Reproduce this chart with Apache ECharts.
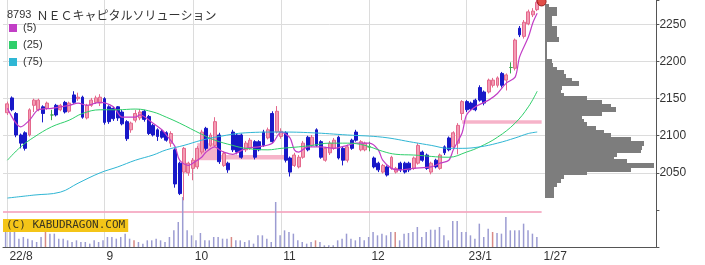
<!DOCTYPE html>
<html><head><meta charset="utf-8">
<script src="https://cdn.jsdelivr.net/npm/echarts@6/dist/echarts.min.js"></script>
<style>html,body{margin:0;padding:0;background:#fff}#c{width:705px;height:265px}</style>
</head><body><div id="c"></div>
<script>
// ---- trading days (categories) ----
const tradingMonths = [
  ['2022/8', [1,2,3,4,5,8,9,10,12,15,16,17,18,19,22,23,24,25,26,29,30,31]],
  ['2022/9', [1,2,5,6,7,8,9,12,13,14,15,16,20,21,22,26,27,28,29,30]],
  ['2022/10',[3,4,5,6,7,11,12,13,14,17,18,19,20,21,24,25,26,27,28,31]],
  ['2022/11',[1,2,4,7,8,9,10,11,14,15,16,17,18,21,22,24,25,28,29,30]],
  ['2022/12',[1,2,5,6,7,8,9,12,13,14,15,16,19,20,21,22,23,26,27,28,29,30]],
  ['2023/1', [4,5,6,10,11,12,13,16,17,18,19,20,23,24,25,26,27]]
];
const tickLabels = [['2022/8/1','22/8'],['2022/9/1','9'],['2022/10/3','10'],['2022/11/1','11'],['2022/12/1','12'],['2023/1/4','23/1']];
const endLabel = '1/27';

// ---- daily candles [open, close, low, high] ----
const candles = [
[2131,2143,2128,2146],[2151,2135,2133,2153],[2130,2101,2098,2132],[2101,2090,2083,2103],[2104,2083,2080,2106],
[2101,2135,2099,2137],[2141,2148,2132,2150],[2135,2148,2133,2150],[2139,2130,2118,2141],[2137,2144,2135,2146],
[2128,2128,2121,2135],[2141,2128,2126,2143],[2135,2141,2133,2143],[2145,2132,2130,2147],[2133,2144,2131,2146],
[2155,2145,2143,2160],[2150,2152,2147,2158],[2152,2125,2123,2154],[2124,2141,2122,2143],[2141,2148,2139,2151],
[2145,2151,2143,2154],[2144,2152,2140,2156],[2150,2118,2115,2152],[2139,2119,2116,2141],[2137,2123,2120,2139],
[2139,2124,2120,2140],[2132,2116,2114,2135],[2119,2096,2093,2121],[2108,2117,2104,2119],[2121,2130,2118,2135],
[2124,2132,2121,2136],[2133,2122,2119,2135],[2126,2103,2101,2128],[2114,2101,2099,2116],[2108,2099,2093,2110],
[2106,2098,2096,2108],[2104,2094,2092,2106],[2090,2103,2085,2106],[2081,2035,2030,2083],[2063,2022,2020,2065],
[2051,2083,2013,2085],[2050,2063,2046,2065],[2056,2067,2040,2070],[2058,2083,2055,2086],[2078,2105,2075,2108],
[2110,2083,2080,2112],[2087,2101,2085,2104],[2087,2119,2085,2125],[2101,2065,2062,2104],[2060,2076,2058,2079],
[2063,2054,2050,2065],[2105,2081,2078,2108],[2101,2078,2075,2103],[2101,2071,2069,2103],[2081,2090,2078,2093],
[2083,2094,2081,2097],[2092,2071,2068,2094],[2092,2081,2079,2094],[2105,2087,2085,2108],[2097,2108,2095,2111],
[2130,2092,2090,2133],[2105,2133,2103,2140],[2099,2106,2096,2110],[2104,2067,2064,2106],[2070,2051,2045,2072],
[2060,2074,2058,2077],[2058,2071,2056,2074],[2071,2090,2069,2093],[2098,2081,2079,2100],[2087,2098,2085,2101],
[2108,2087,2085,2110],[2092,2071,2069,2094],[2067,2083,2065,2085],[2077,2090,2074,2093],[2083,2094,2081,2097],
[2098,2070,2068,2100],[2083,2067,2060,2085],[2067,2085,2064,2088],[2094,2083,2081,2096],[2105,2094,2092,2108],
[2081,2092,2079,2094],[2081,2090,2079,2092],[2085,2085,2079,2092],[2070,2058,2056,2072],[2063,2054,2051,2065],
[2051,2060,2049,2062],[2058,2047,2045,2060],[2056,2071,2054,2073],[2051,2056,2049,2058],[2063,2054,2051,2065],
[2063,2051,2049,2065],[2063,2054,2051,2065],[2056,2070,2054,2072],[2063,2087,2061,2090],[2078,2067,2065,2080],
[2074,2056,2054,2076],[2051,2063,2048,2065],[2067,2058,2056,2069],[2056,2074,2054,2076],[2085,2077,2074,2087],
[2097,2081,2079,2099],[2085,2104,2083,2106],[2090,2114,2075,2117],[2130,2146,2121,2148],[2146,2135,2132,2148],
[2144,2136,2134,2146],[2148,2135,2133,2150],[2165,2148,2146,2168],[2159,2144,2141,2161],[2159,2175,2157,2177],
[2168,2175,2165,2178],[2168,2178,2165,2180],[2184,2168,2165,2186],[2175,2182,2161,2184],[2192,2192,2184,2199],
[2191,2229,2188,2231],[2245,2236,2233,2248],[2234,2253,2231,2256],[2251,2267,2249,2270],[2263,2268,2260,2272],
[2270,2280,2268,2283]
];

// ---- daily volume (relative units) ----
const volume = [45,45,45,25,30,25,20,15,30,45, 40,40,25,25,20,15,20,15,15,10,
  20,15,20,30,30,25,30,40,25,20, 15,10,20,20,25,20,15,30,50,75,
  150,50,35,20,42,20,20,30,30,25, 25,30,20,20,15,20,10,35,35,25,
  15,135,35,50,45,40,20,15,10,15, 20,15,5,5,5,20,25,40,25,20,
  30,20,30,45,35,40,35,45,45,20, 40,42,45,60,30,45,52,52,60,35,
  20,78,78,45,45,35,25,70,30,55, 45,42,40,90,50,50,50,70,50,40, 30];
const volumeRedDays = [9,29,51,70,88,110];

// ---- moving averages [dayIndex, price] ----
const ma5 = [[0,2137],[3,2112],[5,2121],[7,2135],[10,2137],[14,2141],[16,2144],[18,2141],[20,2144],[21,2145],[24,2139],[26,2125],[29,2125],[30,2128],[33,2117],[35,2108],[36,2101],[38,2085],[39,2067],[41,2060],[42,2063],[44,2071],[45,2078],[47,2085],[48,2081],[49,2078],[51,2075],[54,2083],[57,2085],[60,2090],[62,2105],[64,2097],[65,2081],[66,2078],[68,2085],[71,2085],[74,2083],[77,2087],[79,2090],[82,2090],[84,2081],[85,2067],[87,2056],[89,2054],[92,2056],[96,2058],[98,2063],[100,2067],[101,2081],[103,2104],[104,2128],[106,2139],[109,2148],[111,2157],[113,2171],[115,2179],[116,2206],[118,2233],[119,2252],[120,2265]];
const ma25 = [[0,2067],[3,2085],[6,2098],[10,2112],[14,2121],[17,2130],[21,2135],[25,2135],[29,2136],[33,2132],[36,2125],[39,2117],[44,2102],[47,2094],[51,2087],[54,2083],[59,2081],[62,2083],[66,2085],[69,2087],[73,2090],[77,2090],[81,2087],[85,2079],[88,2075],[92,2074],[100,2071],[104,2078],[107,2085],[111,2098],[115,2117],[118,2139],[120,2160]];
const ma75 = [[0,2016],[6,2020],[12,2024],[16,2036],[21,2050],[25,2058],[29,2067],[33,2074],[36,2081],[40,2087],[44,2094],[48,2099],[54,2104],[62,2105],[69,2104],[77,2101],[85,2098],[92,2091],[96,2087],[100,2083],[103,2083],[107,2085],[111,2090],[115,2097],[118,2103],[120,2105]];

// ---- price-by-volume profile ----
const profileLevels = [2020,2025,2030,2035,2040,2045,2050,2055,2060,2065,2070,2075,2080,2085,2090,2095,2100,2105,2110,2115,2120,2125,2130,2135,2140,2145,2150,2155,2160,2165,2170,2175,2180,2185,2190,2195,2200,2205,2210,2215,2220,2225,2230,2235,2240,2245,2250,2255,2260,2265,2270,2275];
const profileVolume = [9,9,9,12,16,19,42,86,109,82,69,72,96,97,99,86,66,59,51,42,39,37,57,71,66,57,42,19,16,17,34,27,21,19,12,8,7,2,2,2,2,2,14,12,12,12,7,7,7,12,12,4];

// ---- gaps / marker lines ----
const gapBands = [ // [fromDay, toDay, lowPrice, highPrice]
  [43,48,2067,2090],[48,63,2068,2074],[103,121,2116,2121],[-1,121,1996,1998.5]
];
const lastMarker = [121, 2281];

// ---------- build ----------
const dates = [];
tradingMonths.forEach(([m, days]) => days.forEach(d => dates.push(m + '/' + d)));
const PAD_END = 27;
const cats = [''].concat(dates, Array.from({length: PAD_END}, (_, k) => 'pad' + k));
const cat = i => i + 1;
const labelMap = {};
tickLabels.forEach(([d, t]) => { labelMap[cat(dates.indexOf(d))] = t; });
const lineCats = Object.keys(labelMap).map(Number);
labelMap[cat(dates.length)] = endLabel;

const upColor = '#f39bb4', upBorder = '#e4688c', downColor = '#1818c8', dojiColor = '#3aa84a';
const candleData = ['-'].concat(candles.map(c => {
  if (c[0] === c[1]) return {value: c, itemStyle: {color: dojiColor, borderColor: dojiColor, color0: dojiColor, borderColor0: dojiColor}};
  return c;
}));
const volData = ['-'].concat(volume.map((v, i) => volumeRedDays.includes(i) ? {value: v, itemStyle: {color: '#d88a86'}} : v));
const toCat = arr => arr.map(([i, v]) => [cat(i), v]);

const FONT = 'Liberation Sans, Arial, sans-serif';
const gridL = 1.2, gridR = 48.6;

const chart = echarts.init(document.getElementById('c'), null, {renderer: 'canvas'});
chart.setOption({
  animation: false,
  backgroundColor: '#ffffff',
  title: {
    text: '{a|8793} {b|ＮＥＣキャピタルソリューション}',
    left: 2, top: 1,
    textStyle: {fontWeight: 'normal', rich: {
      a: {fontSize: 11, fontFamily: FONT, color: '#333', fontWeight: 'normal'},
      b: {fontSize: 12, fontFamily: 'Noto Sans CJK JP', color: '#333', fontWeight: 'normal'}
    }}
  },
  legend: {
    data: ['(5)', '(25)', '(75)'], orient: 'vertical', left: 4, top: 17,
    itemWidth: 8, itemHeight: 8, itemGap: 5, icon: 'rect', selectedMode: false,
    textStyle: {fontSize: 11, lineHeight: 12, color: '#333', fontFamily: FONT, padding: [0, 0, 0, 1]}
  },
  graphic: [{
    type: 'text', left: 3, top: 219, z: 10,
    style: {text: '(C) KABUDRAGON.COM', font: '11px "DejaVu Sans Mono"', fill: '#3a3520',
      backgroundColor: '#f4c518', padding: [1, 3, 1, 3]}
  }],
  grid: [
    {left: gridL, right: gridR, top: 0, bottom: 18},
    {left: gridL, right: gridR, top: 197, bottom: 18},
    {left: 545, right: gridR, top: 0, bottom: 18}
  ],
  xAxis: [
    {type: 'category', data: cats, gridIndex: 0, boundaryGap: false,
      axisLine: {show: true, lineStyle: {color: '#555', width: 1}}, axisTick: {show: false},
      axisLabel: {show: true, interval: 0, align: 'left', margin: 4, fontSize: 12, color: '#333', fontFamily: FONT,
        padding: [0, 0, 0, 2],
        formatter: (v, idx) => labelMap[idx] || ''},
      splitLine: {show: true, interval: (idx) => lineCats.includes(idx), lineStyle: {color: '#dcdcdc', width: 1}}},
    {type: 'category', data: cats, gridIndex: 1, boundaryGap: false,
      axisLine: {show: false}, axisTick: {show: false}, axisLabel: {show: false}, splitLine: {show: false}},
    {type: 'value', gridIndex: 2, min: 0, max: 111.4, show: false}
  ],
  yAxis: [
    {type: 'value', gridIndex: 0, position: 'right', min: 1950, max: 2283, interval: 50,
      axisLine: {show: true, lineStyle: {color: '#555', width: 1}},
      axisTick: {show: true, length: 3, lineStyle: {color: '#555'}},
      axisLabel: {fontSize: 12, color: '#333', fontFamily: FONT, margin: 3,
        formatter: v => (v >= 2050 && v <= 2250) ? String(v) : ''},
      splitLine: {show: true, lineStyle: {color: ['rgba(0,0,0,0)', 'rgba(0,0,0,0)', '#dcdcdc', '#dcdcdc', '#dcdcdc', '#dcdcdc', '#dcdcdc'], width: 1}}},
    {type: 'value', gridIndex: 1, min: 0, max: 150, show: false},
    {type: 'value', gridIndex: 2, min: 1950, max: 2283, show: false}
  ],
  series: [
    {name: 'vol', type: 'bar', xAxisIndex: 1, yAxisIndex: 1, data: volData, barWidth: 1.5,
      itemStyle: {color: '#9c9cd2'}, silent: true, z: 1},
    {name: 'price', type: 'candlestick', xAxisIndex: 0, yAxisIndex: 0, data: candleData, barWidth: 3.4,
      itemStyle: {color: upColor, borderColor: upBorder, color0: downColor, borderColor0: downColor, borderWidth: 1},
      markArea: {silent: true, itemStyle: {color: '#f5a6c0', opacity: 0.85},
        data: gapBands.map(([a, b, lo, hi]) => [{xAxis: cat(a), yAxis: hi}, {xAxis: cat(b), yAxis: lo}])},
      z: 3},
    {name: '(5)', type: 'line', data: toCat(ma5), smooth: 0.3, showSymbol: false, color: '#c23ec6',
      lineStyle: {width: 1.2}, z: 4},
    {name: '(25)', type: 'line', data: toCat(ma25), smooth: 0.4, showSymbol: false, color: '#2fcf6b',
      lineStyle: {width: 1}, z: 4},
    {name: '(75)', type: 'line', data: toCat(ma75), smooth: 0.4, showSymbol: false, color: '#2fb6d4',
      lineStyle: {width: 1}, z: 4},
    {name: 'last', type: 'scatter', data: [[cat(lastMarker[0]), lastMarker[1]]], symbolSize: 9,
      itemStyle: {color: '#d8221a', borderColor: '#8a1010', borderWidth: 1}, z: 6},
    {name: 'profile', type: 'custom', xAxisIndex: 2, yAxisIndex: 2,
      data: profileLevels.map((p, k) => [p, profileVolume[k]]),
      encode: {x: 1, y: 0},
      renderItem: (params, api) => {
        const p = api.value(0), w = api.value(1);
        const a = api.coord([0, p + 2.5]);
        const b = api.coord([w, p - 2.5]);
        return {type: 'rect', shape: {x: Math.round(a[0]), y: Math.floor(a[1]), width: Math.round(b[0] - a[0]), height: Math.ceil(b[1] - a[1]) + 1},
          style: {fill: '#7d7d7d', stroke: null}};
      }, silent: true, z: 2}
  ]
});
</script></body></html>
